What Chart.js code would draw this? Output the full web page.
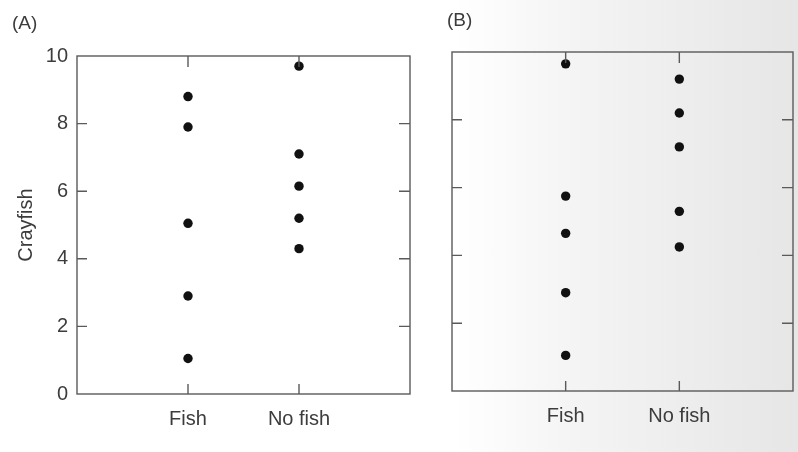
<!DOCTYPE html>
<html>
<head>
<meta charset="utf-8">
<script src="https://cdn.jsdelivr.net/npm/chart.js@4.4.1/dist/chart.umd.min.js"></script>
<style>
  html, body { margin: 0; padding: 0; }
  body {
    width: 798px; height: 452px; overflow: hidden; position: relative;
    background: linear-gradient(to right, #ffffff 0%, #ffffff 57%, #f4f4f4 72%, #ececec 88%, #e6e6e6 100%);
    font-family: "Liberation Sans", Arial, sans-serif;
  }
  .panel { position: absolute; top: 0; height: 452px; }
  .tag { position: absolute; font-size: 19px; color: #3c3c3c; line-height: 20px; }
</style>
</head>
<body>
<div class="panel" style="left:0;width:420px"><canvas id="chartA" width="420" height="452"></canvas></div>
<div class="panel" style="left:420px;width:378px"><canvas id="chartB" width="378" height="452"></canvas></div>
<div class="tag" style="left:12px;top:13px">(A)</div>
<div class="tag" style="left:447px;top:10px">(B)</div>
<script>
// groups on the x axis and the crayfish counts per pond
var groups = ['Fish', 'No fish'];
var yTicks = [0, 2, 4, 6, 8, 10];
var fishA = [8.8, 7.9, 5.05, 2.9, 1.05];
var noFishA = [9.7, 7.1, 6.15, 5.2, 4.3];
var fishB = [9.65, 5.75, 4.65, 2.9, 1.05];
var noFishB = [9.2, 8.2, 7.2, 5.3, 4.25];

var lineColor = '#5a5a5a';
var textColor = '#3c3c3c';
var font = { family: '"Liberation Sans", Arial, sans-serif', size: 20 };

function points(idx, vals) {
    return vals.map(function (v) { return { x: idx + 1, y: v }; });
}

// box round the plot area with short ticks pointing inward on all four sides
var framePlugin = {
    id: 'frame',
    afterDraw: function (chart) {
        var ctx = chart.ctx, a = chart.chartArea;
        var xs = chart.scales.x, ys = chart.scales.y;
        ctx.save();
        ctx.strokeStyle = lineColor;
        ctx.lineWidth = 1.4;
        ctx.strokeRect(a.left, a.top, a.right - a.left, a.bottom - a.top);
        ctx.beginPath();
        yTicks.forEach(function (v) {
            if (v == 0 || v == 10) return;
            var py = ys.getPixelForValue(v);
            ctx.moveTo(a.left, py); ctx.lineTo(a.left + 10, py);
            ctx.moveTo(a.right, py); ctx.lineTo(a.right - 11, py);
        });
        groups.forEach(function (g, i) {
            var px = xs.getPixelForValue(i + 1);
            ctx.moveTo(px, a.bottom); ctx.lineTo(px, a.bottom - 10);
            ctx.moveTo(px, a.top); ctx.lineTo(px, a.top + 11);
        });
        ctx.stroke();
        ctx.restore();
    }
};

function makeChart(id, fish, noFish, opts) {
    return new Chart(document.getElementById(id), {
        type: 'scatter',
        data: {
            datasets: [
                { data: points(0, fish) },
                { data: points(1, noFish) }
            ]
        },
        options: {
            responsive: false,
            animation: false,
            layout: { padding: { left: 0, right: opts.right, top: opts.top, bottom: 0 } },
            elements: { point: { radius: 4.7, backgroundColor: '#111', borderWidth: 0 } },
            plugins: { legend: { display: false }, tooltip: { enabled: false } },
            scales: {
                x: {
                    type: 'linear', min: 0, max: 3,
                    grid: { display: false, drawTicks: false },
                    border: { display: false },
                    afterBuildTicks: function (scale) {
                        scale.ticks = groups.map(function (g, i) { return { value: i + 1 }; });
                    },
                    afterFit: function (scale) { scale.height = opts.xHeight; },
                    ticks: {
                        padding: 13, color: textColor, font: font, maxRotation: 0,
                        callback: function (v) { return groups[v - 1]; }
                    }
                },
                y: {
                    min: 0, max: 10,
                    grid: { display: false, drawTicks: false },
                    border: { display: false },
                    afterFit: function (scale) { scale.width = opts.yWidth; },
                    title: {
                        display: opts.showY, text: 'Crayfish', color: textColor,
                        font: font, padding: { top: 14, bottom: 0 }
                    },
                    ticks: {
                        display: opts.showY, stepSize: 2, padding: 9,
                        color: textColor, font: font
                    }
                }
            }
        },
        plugins: [framePlugin]
    });
}

makeChart('chartA', fishA, noFishA, { right: 10, top: 56, xHeight: 58, yWidth: 77, showY: true });
makeChart('chartB', fishB, noFishB, { right: 5, top: 52, xHeight: 61, yWidth: 32, showY: false });
</script>
</body>
</html>
